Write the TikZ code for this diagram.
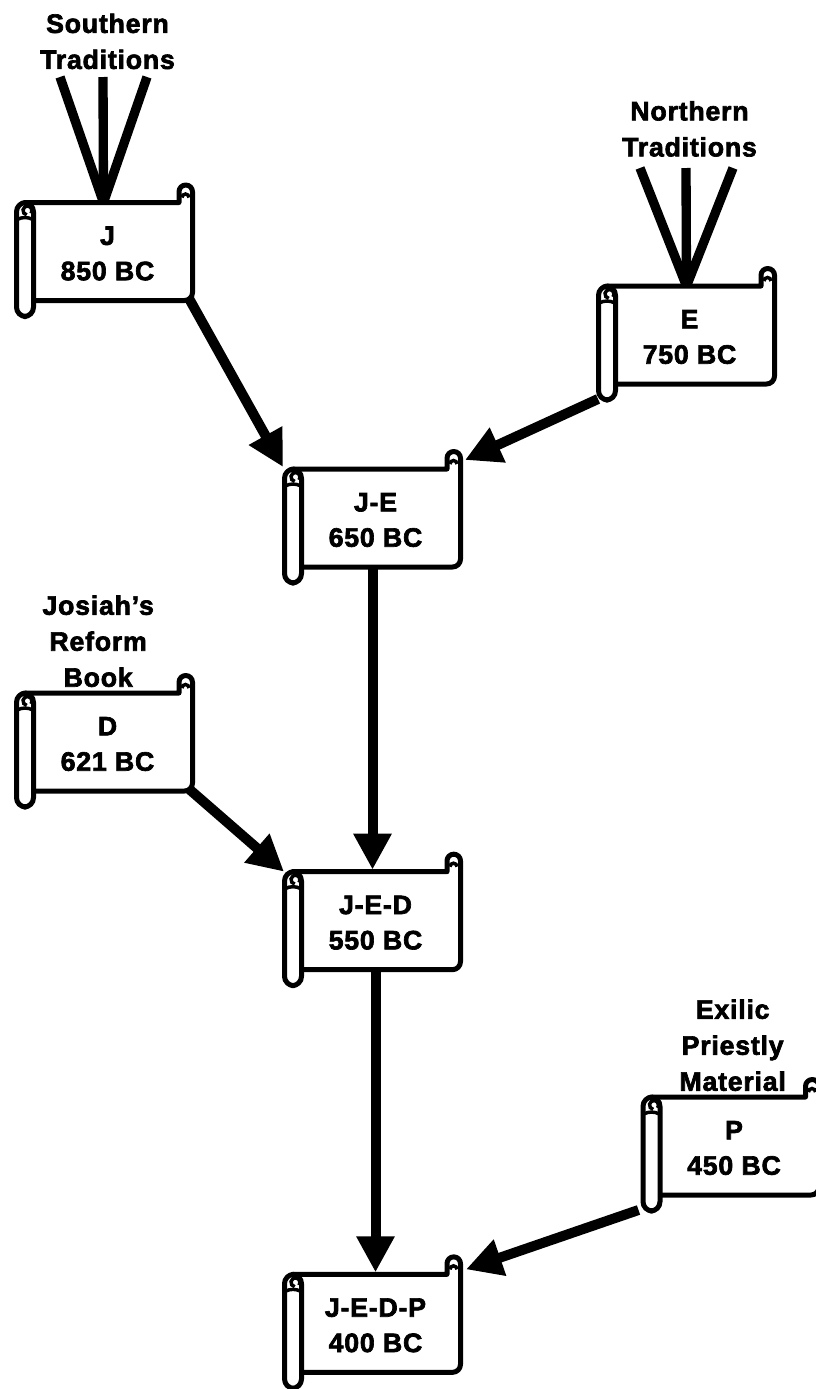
\documentclass[tikz,border=0pt]{standalone}
\usepackage{fontspec}
\setmainfont{Liberation Sans}[BoldFeatures={FakeBold=2.5,LetterSpace=3}]
\usetikzlibrary{arrows.meta,positioning,backgrounds}

\begin{document}
\begin{tikzpicture}[
    x=0.75pt, y=-0.75pt,
    node distance=228.5pt,
    scrollbox/.style={inner sep=0pt, outer sep=0pt, minimum width=131.25pt, minimum height=73.5pt, align=center, font=\fontsize{20pt}{26.5pt}\selectfont\bfseries},
    srctext/.style={inner sep=0pt, outer sep=0pt, align=center, font=\fontsize{20pt}{27pt}\selectfont\bfseries},
    scrollline/.style={draw=black, line width=3.75pt, fill=white, line join=round},
    curl/.style={draw=black, line width=2.6pt},
    arr/.style={-{Triangle[length=27pt,width=27pt]}, line width=7.5pt},
    strand/.style={line width=7pt},
]
\useasboundingbox (0,0) rectangle (815,1389);
\node[scrollbox] (j) at (107.5,253.5) {J\\850 BC};
\node[scrollbox] (e) at (689.5,337) {E\\750 BC};
\node[scrollbox] (je) at (375.5,520) {J-E\\650 BC};
\node[scrollbox] (d) at (107.5,744) {D\\621 BC};
\node[scrollbox, below=of je] (jed) {J-E-D\\550 BC};
\node[scrollbox] (p) at (734,1148) {P\\450 BC};
\node[scrollbox, below=of jed] (jedp) {J-E-D-P\\400 BC};
% rolled ends of each scroll
\begin{scope}[on background layer]
\foreach \name in {j,e,je,d,jed,p,jedp} {
  \begin{scope}[shift={([yshift=1.5pt]\name.north west)}]
    \draw[scrollline, rounded corners=6pt] (5,0) [sharp corners] -- (159,0) -- (159,-10.75) arc[start angle=180, end angle=360, radius=6.75] [rounded corners=6pt] -- (172.5,98) -- (10,98);
    \draw[curl] (162,-5) arc[start angle=180, end angle=360, radius=3.5];
    \draw[scrollline, rounded corners=7pt] (-3.5,0) rectangle (13.5,114);
    \draw[curl] (6.7,12.4) arc[start angle=100, end angle=400, radius=4.5];
    \draw[curl] (-3,17) to[bend left=25] (13,17);
  \end{scope}
}
\end{scope}
% traditions
\node[srctext, above=101.5pt of j] (south) {Southern\\Traditions};
\coordinate (s1) at (60,77);
\coordinate (s2) at (103,77);
\coordinate (s3) at (147,77);
\foreach \a in {s1,s2,s3} \draw[strand] (\a) -- ([shift={(-4,-2)}]j.north);
\node[srctext, above=98.5pt of e] (north) {Northern\\Traditions};
\coordinate (n1) at (640,168);
\coordinate (n2) at (686,168);
\coordinate (n3) at (733,168);
\foreach \a in {n1,n2,n3} \draw[strand] (\a) -- ([shift={(-3,-2)}]e.north);
\node[srctext, above=6pt of d, xshift=-7pt] (josiah) {Josiah's\\Reform\\Book};
\node[srctext, above=6pt of p, xshift=-1pt] (exilic) {Exilic\\Priestly\\Material};
% arrows
\draw[arr] ([shift={(-6,-4)}]j.south east) -- ([shift={(-5,-4)}]je.north west);
\draw[arr] ([shift={(-4,13)}]e.south west) -- ([shift={(2,-11)}]je.north east);
\draw[arr] ([shift={(-3,-2)}]je.south) -- ([shift={(-3,-4)}]jed.north);
\draw[arr] ([shift={(-6,-4)}]d.south east) -- ([shift={(-4,-2)}]jed.north west);
\draw[arr] ([shift={(0,-2)}]jed.south) -- ([shift={(0,-4)}]jedp.north);
\draw[arr] ([shift={(-8,13)}]p.south west) -- ([shift={(3,-7)}]jedp.north east);
\end{tikzpicture}
\end{document}
